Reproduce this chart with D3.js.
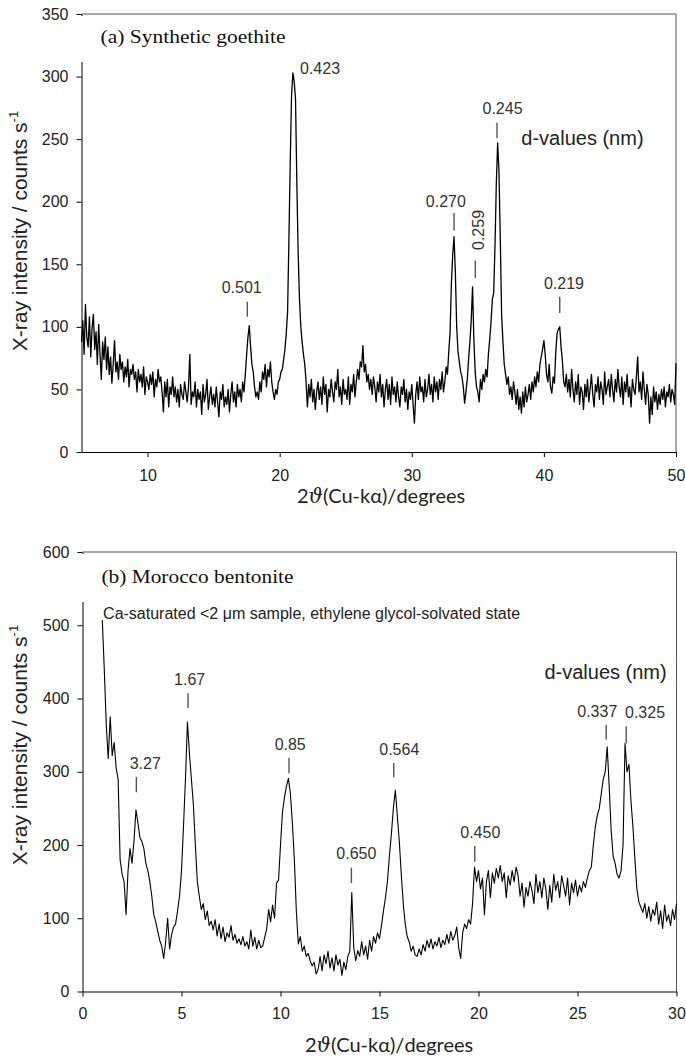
<!DOCTYPE html>
<html>
<head>
<meta charset="utf-8">
<script src="https://cdn.jsdelivr.net/npm/d3@7"></script>
<style>
  body { margin: 0; background: #fff; }
  svg { display: block; }
</style>
</head>
<body>
<svg id="chart" width="686" height="1062"></svg>
<script>
// (a) synthetic goethite, 2theta 5..50 in 0.1 deg steps
const goethiteStart = 5;
const goethiteStep = 0.1;
const goethiteCounts = [
  88, 105, 78, 118, 92, 84, 108, 76, 99, 110,
  82, 96, 70, 102, 78, 58, 88, 74, 92, 66,
  84, 62, 76, 55, 70, 89, 64, 72, 58, 78,
  66, 72, 56, 68, 60, 74, 52, 66, 62, 70,
  58, 64, 48, 66, 56, 62, 52, 68, 46, 60,
  56, 50, 62, 54, 64, 44, 58, 52, 66, 56,
  60, 48, 32, 56, 44, 58, 36, 52, 46, 60,
  44, 52, 40, 50, 36, 54, 46, 42, 56, 48,
  40, 52, 78, 38, 48, 44, 56, 36, 50, 42,
  48, 30, 54, 40, 46, 58, 34, 44, 52, 38,
  46, 36, 52, 40, 28, 48, 42, 54, 36, 44,
  38, 50, 32, 46, 56, 40, 48, 36, 54, 44,
  50, 40, 56, 48, 62, 78, 92, 101, 84, 70,
  64, 52, 44, 48, 42, 56, 48, 64, 58, 70,
  52, 66, 60, 72, 56, 48, 42, 50, 46, 56,
  58, 64, 66, 74, 82, 95, 112, 170, 232, 285,
  303, 296, 282, 215, 159, 122, 100, 88, 78, 70,
  56, 36, 54, 44, 58, 40, 50, 34, 48, 56,
  42, 52, 38, 60, 46, 54, 32, 50, 44, 58,
  48, 40, 56, 50, 66, 44, 52, 38, 58, 46,
  50, 42, 60, 38, 54, 48, 62, 44, 56, 66,
  58, 72, 68, 85, 64, 70, 56, 62, 50, 58,
  46, 60, 52, 40, 56, 48, 62, 44, 54, 36,
  50, 58, 42, 54, 38, 60, 46, 52, 40, 56,
  44, 36, 52, 46, 58, 40, 50, 34, 48, 42,
  54, 38, 23, 46, 56, 42, 60, 48, 52, 40,
  58, 44, 50, 62, 46, 54, 40, 60, 48, 56,
  42, 58, 50, 64, 48, 56, 68, 62, 80, 96,
  135, 158, 172, 143, 100, 80, 72, 64, 60, 52,
  39, 48, 58, 74, 88, 105, 132, 90, 64, 52,
  48, 40, 58, 50, 62, 56, 66, 60, 78, 90,
  104, 122, 127, 165, 215, 247, 224, 170, 110, 88,
  70, 62, 54, 60, 46, 52, 42, 56, 48, 38,
  50, 34, 44, 31, 48, 36, 52, 40, 46, 54,
  42, 56, 48, 60, 52, 64, 56, 70, 76, 82,
  89, 78, 62, 56, 70, 52, 47, 60, 55, 80,
  95, 98, 100, 84, 73, 56, 52, 62, 48, 58,
  44, 66, 50, 40, 56, 46, 62, 38, 52, 48,
  34, 54, 44, 58, 40, 50, 62, 46, 36, 54,
  48, 60, 42, 56, 50, 38, 64, 46, 52, 58,
  44, 62, 50, 40, 58, 48, 66, 52, 44, 60,
  38, 56, 48, 62, 44, 52, 36, 58, 50, 46,
  60, 76, 48, 56, 42, 64, 50, 38, 54, 46,
  23, 44, 30, 52, 40, 48, 34, 46, 38, 50,
  42, 52, 36, 48, 44, 54, 40, 50, 46, 38,
  71
];

// (b) Morocco bentonite, 2theta 1..30 in 0.1 deg steps
const bentoniteStart = 1;
const bentoniteStep = 0.1;
const bentoniteCounts = [
  507, 440, 365, 318, 375, 322, 340, 305, 290, 180,
  160, 150, 105, 165, 195, 175, 205, 248, 230, 210,
  205, 195, 175, 165, 150, 130, 105, 95, 82, 70,
  62, 45, 68, 100, 58, 78, 88, 92, 110, 130,
  165, 225, 290, 368, 325, 290, 255, 200, 150, 130,
  112, 120, 98, 110, 90, 96, 84, 98, 76, 92,
  72, 88, 68, 80, 74, 90, 70, 78, 66, 72,
  64, 75, 62, 68, 58, 84, 62, 74, 58, 70,
  60, 62, 74, 85, 112, 95, 118, 100, 148, 152,
  200, 245, 265, 280, 291, 270, 230, 180, 110, 65,
  75, 55, 62, 48, 52, 42, 35, 40, 24, 30,
  48, 28, 50, 38, 55, 32, 46, 28, 50, 36,
  44, 22, 40, 30, 48, 55, 135, 60, 42, 56,
  48, 68, 50, 62, 44, 70, 55, 75, 66, 80,
  72, 90, 110, 128, 150, 185, 215, 250, 275, 240,
  205, 160, 120, 92, 75, 68, 55, 62, 50, 48,
  58, 50, 64, 55, 70, 60, 72, 58, 68, 62,
  74, 60, 70, 64, 78, 66, 82, 70, 76, 88,
  60, 45, 80, 92, 86, 98, 92, 120, 170, 150,
  165, 140, 155, 105, 150, 165, 128, 162, 148, 168,
  155, 172, 150, 162, 128, 158, 145, 165, 150, 170,
  158, 130, 148, 115, 142, 130, 150, 138, 120, 160,
  135, 150, 128, 155, 140, 112, 145, 122, 160, 138,
  150, 128, 158, 145, 130, 155, 118, 148, 135, 152,
  130, 145, 136, 150, 142, 155, 165, 170, 200, 225,
  240, 250, 270, 290, 300, 334, 280, 220, 185, 175,
  160, 155, 165, 200, 339, 300, 310, 260, 225, 180,
  140, 122, 115, 108, 120, 100, 116, 96, 112, 104,
  122, 92, 110, 86, 118, 96, 105, 90, 112, 98,
  120
];

const goethiteXTicks = [10, 20, 30, 40, 50];
const goethiteYTicks = [0, 50, 100, 150, 200, 250, 300, 350];
const bentoniteXTicks = [0, 5, 10, 15, 20, 25, 30];
const bentoniteYTicks = [0, 100, 200, 300, 400, 500, 600];

// peak annotations in data units: label x / baseline, marker x and its ends
const goethitePeaks = [
  { d: "0.423", lx: 21.54, ly: 302, anchor: "start" },
  { d: "0.501", lx: 17.13, ly: 126.8, mx: 17.55, m0: 120, m1: 108 },
  { d: "0.270", lx: 32.58, ly: 196, mx: 33.2, m0: 191, m1: 177 },
  { d: "0.259", lx: 35.47, ly: 177.4, mx: 34.81, m0: 153, m1: 139, rotate: true },
  { d: "0.245", lx: 36.87, ly: 270, mx: 36.45, m0: 263, m1: 251 },
  { d: "0.219", lx: 41.52, ly: 130, mx: 41.2, m0: 124, m1: 111 }
];
const bentonitePeaks = [
  { d: "3.27", lx: 3.17, ly: 303.4, mx: 2.72, m0: 293, m1: 272 },
  { d: "1.67", lx: 5.41, ly: 418.5, mx: 5.33, m0: 407, m1: 387 },
  { d: "0.85", lx: 10.49, ly: 329.7, mx: 10.43, m0: 319, m1: 298 },
  { d: "0.650", lx: 13.83, ly: 180.6, mx: 13.58, m0: 169, m1: 148 },
  { d: "0.564", lx: 16.0, ly: 322.9, mx: 15.72, m0: 312, m1: 292 },
  { d: "0.450", lx: 20.09, ly: 209.2, mx: 19.81, m0: 199, m1: 177 },
  { d: "0.337", lx: 26.0, ly: 375.2, mx: 26.45, m0: 364, m1: 344 },
  { d: "0.325", lx: 28.41, ly: 373, mx: 27.46, m0: 362, m1: 339 }
];

const svg = d3.select("#chart");
const sans = "'Liberation Sans', Arial, sans-serif";

function drawPanel(p) {
    const x = d3.scaleLinear().domain(p.xDomain).range(p.xRange);
    const y = d3.scaleLinear().domain(p.yDomain).range(p.yRange);
    const [left, right] = p.xRange;
    const [bottom, top] = p.yRange;
    const g = svg.append("g");

    // top and right border of the plot area
    g.append("path")
        .attr("d", `M${left},${top}H${right}V${bottom}`)
        .attr("fill", "none")
        .attr("stroke", "#555")
        .attr("stroke-width", 1);

    const xAxis = g.append("g")
        .attr("transform", `translate(0,${bottom})`)
        .call(d3.axisBottom(x).tickValues(p.xTicks).tickSize(5).tickSizeOuter(0).tickPadding(p.xPad));
    const yAxis = g.append("g")
        .attr("transform", `translate(${left},0)`)
        .call(d3.axisLeft(y).tickValues(p.yTicks).tickSize(5).tickSizeOuter(0).tickPadding(8));

    [xAxis, yAxis].forEach(a => {
        a.selectAll("text").attr("font-family", sans).attr("font-size", 16).attr("fill", "#222");
        a.selectAll("line, path").attr("stroke", "#000");
    });

    // the scan
    const pts = p.counts.map((c, i) => [p.start + i * p.step, c]);
    g.append("path")
        .datum(pts)
        .attr("d", d3.line().x(d => x(d[0])).y(d => y(d[1])))
        .attr("fill", "none")
        .attr("stroke", "#000")
        .attr("stroke-width", p.lineWidth)
        .attr("stroke-linejoin", "round");

    // peak labels
    p.peaks.forEach(pk => {
        if (pk.mx !== undefined) {
            g.append("line")
                .attr("x1", x(pk.mx)).attr("x2", x(pk.mx))
                .attr("y1", y(pk.m0)).attr("y2", y(pk.m1))
                .attr("stroke", "#555").attr("stroke-width", 1.4);
        }
        const t = g.append("text")
            .attr("font-family", sans)
            .attr("font-size", 16)
            .attr("fill", "#333")
            .text(pk.d);
        if (pk.rotate) {
            t.attr("text-anchor", "middle")
                .attr("transform", `translate(${x(pk.lx)},${y(pk.ly)}) rotate(-90)`);
        } else {
            t.attr("text-anchor", pk.anchor || "middle")
                .attr("x", x(pk.lx)).attr("y", y(pk.ly));
        }
    });

    g.append("text")
        .attr("x", x(p.dNote[0])).attr("y", y(p.dNote[1]))
        .attr("font-family", sans).attr("font-size", 20).attr("fill", "#222")
        .text("d-values (nm)");

    if (p.note) {
        g.append("text")
            .attr("x", x(p.note[0])).attr("y", y(p.note[1]))
            .attr("font-family", sans).attr("font-size", 16).attr("fill", "#222")
            .text(p.note[2]);
    }

    // title box sits over the upper part of the y axis
    g.append("rect")
        .attr("x", left - 3).attr("y", top + 2)
        .attr("width", p.titleBox[0]).attr("height", p.titleBox[1])
        .attr("fill", "#fff");
    g.append("text")
        .attr("x", left + 19).attr("y", top + p.titleDy)
        .attr("font-family", "'Liberation Serif', 'Times New Roman', serif")
        .attr("font-size", 19)
        .attr("fill", "#111")
        .attr("textLength", p.titleLen)
        .attr("lengthAdjust", "spacingAndGlyphs")
        .text(p.title);

    // axis titles
    const yl = g.append("text")
        .attr("transform", `translate(27,${p.yLabelMid}) rotate(-90)`)
        .attr("text-anchor", "middle")
        .attr("font-family", sans)
        .attr("font-size", 21)
        .attr("fill", "#222");
    yl.append("tspan").text("X-ray intensity / counts s");
    yl.append("tspan").attr("font-size", 13).attr("dy", -9).text("-1");

    const xl = g.append("text")
        .attr("x", p.xLabelX).attr("y", p.xLabelY)
        .attr("font-family", "Lato, 'Open Sans', sans-serif")
        .attr("font-size", 20)
        .attr("fill", "#222");
    xl.append("tspan").text("2");
    xl.append("tspan").attr("font-style", "italic").attr("font-family", "'DejaVu Serif', serif").text("\u03D1");
    xl.append("tspan").text("(Cu-k\u03B1)/degrees");
}

drawPanel({
    xDomain: [5, 50], xRange: [81.5, 676],
    yDomain: [0, 350], yRange: [452, 14],
    xTicks: goethiteXTicks, yTicks: goethiteYTicks, xPad: 13,
    start: goethiteStart, step: goethiteStep, counts: goethiteCounts, lineWidth: 1.3,
    peaks: goethitePeaks,
    dNote: [38.29, 245.3],
    title: "(a) Synthetic goethite", titleBox: [222, 46], titleDy: 29, titleLen: 185,
    yLabelMid: 231,
    xLabelX: 297, xLabelY: 503
});

drawPanel({
    xDomain: [0, 30], xRange: [82.5, 676.5],
    yDomain: [0, 600], yRange: [991.5, 552],
    xTicks: bentoniteXTicks, yTicks: bentoniteYTicks, xPad: 11,
    start: bentoniteStart, step: bentoniteStep, counts: bentoniteCounts, lineWidth: 1.1,
    peaks: bentonitePeaks,
    dNote: [23.33, 426.2],
    note: [1.04, 508, "Ca-saturated <2 \u03BCm sample, ethylene glycol-solvated state"],
    title: "(b) Morocco bentonite", titleBox: [226, 48], titleDy: 31, titleLen: 192,
    yLabelMid: 745,
    xLabelX: 305, xLabelY: 1052
});
</script>
</body>
</html>
